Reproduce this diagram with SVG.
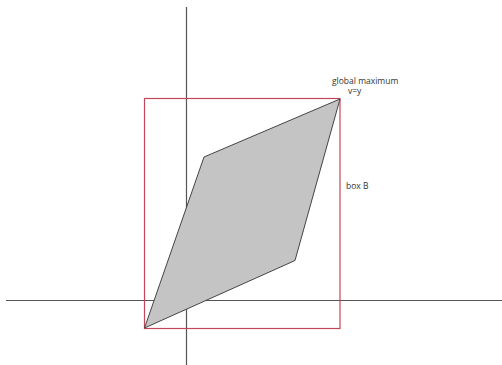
<svg xmlns="http://www.w3.org/2000/svg" width="502" height="365" viewBox="0 0 502 365">
<style>
.axis{stroke:#555;stroke-width:1.2;fill:none}
.box{stroke:#c0485a;stroke-width:1.2;fill:none}
.shape{fill:#c4c4c4;stroke:#444;stroke-width:1}
.lbl{font-family:"Open Sans","Liberation Sans",sans-serif;font-size:8.5px;fill:#333}
</style>
<rect width="502" height="365" fill="#fff"/>
<g id="connectors">
<line class="axis" x1="6" y1="300.5" x2="502" y2="300.5"/>
<line class="axis" x1="186.5" y1="7" x2="186.5" y2="365"/>
</g>
<g id="boxB">
<rect class="box" x="144.5" y="98.5" width="195.5" height="230"/>
<text class="lbl" x="346" y="189">box B</text>
</g>
<g id="region">
<polygon class="shape" points="144.5,328 204,157 340,99 295,260.5"/>
</g>
<g id="globalMax">
<text class="lbl" x="332" y="84">global maximum</text>
<text class="lbl" x="348" y="94">v=y</text>
</g>
</svg>
